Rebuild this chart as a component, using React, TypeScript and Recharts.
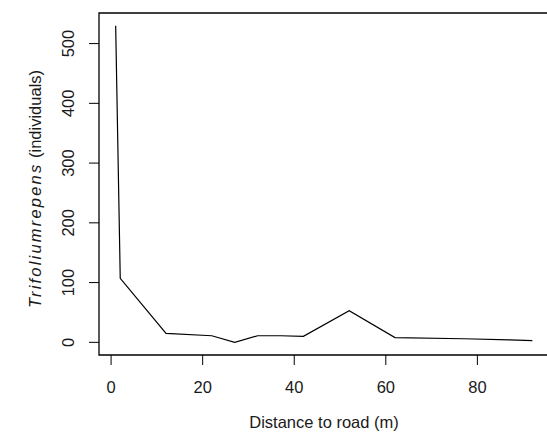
import { LineChart, Line, XAxis, YAxis, ReferenceArea } from "recharts";

// distance to road (m) and number of Trifolium repens individuals
const distance = [1, 2, 12, 22, 27, 32, 37, 42, 52, 62, 77, 87, 92];
const individuals = [530, 107, 15, 11, 0, 11, 11, 10, 53, 8, 6, 4, 3];

const xTicks = [0, 20, 40, 60, 80];
const yTicks = [0, 100, 200, 300, 400, 500];

// R style axis limits: data range widened by 4% on each side
const X_DOMAIN: [number, number] = [-2.64, 95.64];
const Y_DOMAIN: [number, number] = [-21.2, 551.2];

const FONT = "'Liberation Sans', Arial, sans-serif";
const FS = 16.5;
const INK = "#1a1a1a";

const data = distance.map((d, i) => ({ d, n: individuals[i] }));

function YTick(props: any) {
  const { x, y, payload } = props;
  const cx = x - 20;
  return (
    <text
      x={cx}
      y={y}
      dy="0.36em"
      transform={`rotate(-90, ${cx}, ${y})`}
      textAnchor="middle"
      fontSize={FS}
      fontFamily={FONT}
      fill={INK}
    >
      {payload.value}
    </text>
  );
}

function YTitle() {
  return (
    <text
      x={41}
      y={189}
      transform="rotate(-90, 41, 189)"
      textAnchor="middle"
      fontSize={FS}
      fontFamily={FONT}
      fill={INK}
    >
      <tspan fontStyle="italic" letterSpacing={2.2}>
        Trifoliumrepens
      </tspan>
      <tspan> (individuals)</tspan>
    </text>
  );
}

export default function App() {
  return (
    <div style={{ width: 547, height: 439, overflow: "hidden", background: "#fff" }}>
      <style>{"body{margin:0}"}</style>
      <LineChart
        width={552}
        height={439}
        data={data}
        margin={{ top: 13, right: 3, left: 0, bottom: 0 }}
      >
        <XAxis
          dataKey="d"
          type="number"
          domain={X_DOMAIN}
          ticks={xTicks}
          allowDataOverflow
          axisLine={false}
          tickLine={{ stroke: "#000" }}
          tickSize={10}
          tickMargin={16}
          height={84}
          tick={{ fontSize: FS, fontFamily: FONT, fill: INK }}
          label={{
            value: "Distance to road (m)",
            position: "insideBottom",
            offset: 11,
            fontSize: FS,
            fontFamily: FONT,
            fill: INK,
          }}
        />
        <YAxis
          type="number"
          domain={Y_DOMAIN}
          ticks={yTicks}
          allowDataOverflow
          axisLine={false}
          tickLine={{ stroke: "#000" }}
          tickSize={10}
          tickMargin={1}
          width={99}
          tick={<YTick />}
          label={{ content: () => <YTitle /> }}
        />
        <ReferenceArea
          x1={X_DOMAIN[0]}
          x2={X_DOMAIN[1]}
          y1={Y_DOMAIN[0]}
          y2={Y_DOMAIN[1]}
          fill="none"
          stroke="#000"
          strokeWidth={1.3}
          ifOverflow="visible"
        />
        <Line
          dataKey="n"
          stroke="#000"
          strokeWidth={1.2}
          dot={false}
          type="linear"
          isAnimationActive={false}
        />
      </LineChart>
    </div>
  );
}
